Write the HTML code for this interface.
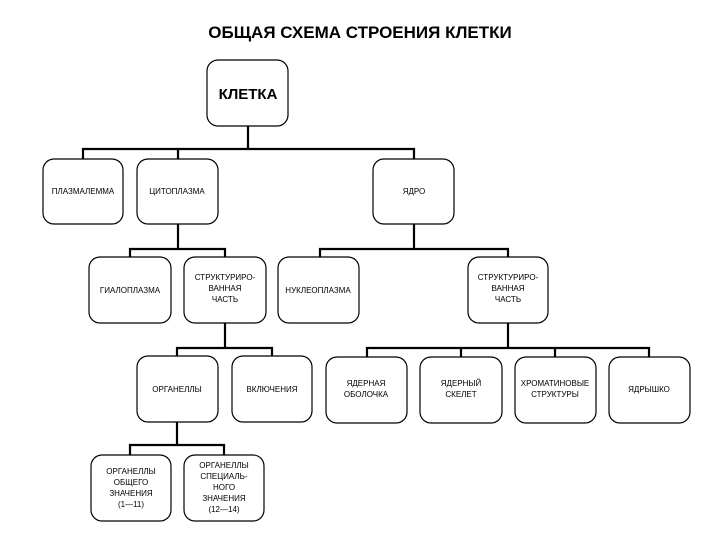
<!DOCTYPE html>
<html><head><meta charset="utf-8"><style>
html,body{margin:0;padding:0;background:#fff;}
svg{display:block;}
text{font-family:"Liberation Sans",sans-serif;fill:#000;}
</style></head><body>
<svg width="720" height="540" viewBox="0 0 720 540" xmlns="http://www.w3.org/2000/svg">
<text x="360" y="38" font-size="17" font-weight="bold" text-anchor="middle">ОБЩАЯ СХЕМА СТРОЕНИЯ КЛЕТКИ</text>
<g stroke="#000" stroke-width="2.2" fill="none">
<path d="M248 126V149M83 159V149H414V159M178 149V159"/>
<path d="M178 224V249M130 257V249H225V257"/>
<path d="M414 224V249M320 257V249H508V257"/>
<path d="M225 323V348M177 356V348H272V356"/>
<path d="M508 323V348M367 357V348H649V357M461 348V357M555 348V357"/>
<path d="M177 422V445M130 455V445H224V455"/>
</g>
<g stroke="#000" stroke-width="1.2" fill="#fff">
<rect x="207" y="60" width="81" height="66" rx="11"/>
<rect x="43" y="159" width="80" height="65" rx="11"/>
<rect x="137" y="159" width="81" height="65" rx="11"/>
<rect x="373" y="159" width="81" height="65" rx="11"/>
<rect x="89" y="257" width="82" height="66" rx="11"/>
<rect x="184" y="257" width="82" height="66" rx="11"/>
<rect x="278" y="257" width="81" height="66" rx="11"/>
<rect x="468" y="257" width="80" height="66" rx="11"/>
<rect x="137" y="356" width="81" height="66" rx="11"/>
<rect x="232" y="356" width="80" height="66" rx="11"/>
<rect x="326" y="357" width="81" height="66" rx="11"/>
<rect x="420" y="357" width="82" height="66" rx="11"/>
<rect x="515" y="357" width="81" height="66" rx="11"/>
<rect x="609" y="357" width="81" height="66" rx="11"/>
<rect x="91" y="455" width="80" height="66" rx="11"/>
<rect x="184" y="455" width="80" height="66" rx="11"/>
</g>
<text x="248" y="99" font-size="15" font-weight="bold" text-anchor="middle">КЛЕТКА</text>
<g font-size="8" text-anchor="middle">
<text x="83" y="194">ПЛАЗМАЛЕММА</text>
<text x="177" y="194">ЦИТОПЛАЗМА</text>
<text x="414" y="194">ЯДРО</text>
<text x="130" y="293">ГИАЛОПЛАЗМА</text>
<text x="225" y="280">СТРУКТУРИРО-</text><text x="225" y="291">ВАННАЯ</text><text x="225" y="302">ЧАСТЬ</text>
<text x="318" y="293">НУКЛЕОПЛАЗМА</text>
<text x="508" y="280">СТРУКТУРИРО-</text><text x="508" y="291">ВАННАЯ</text><text x="508" y="302">ЧАСТЬ</text>
<text x="177" y="392">ОРГАНЕЛЛЫ</text>
<text x="272" y="392">ВКЛЮЧЕНИЯ</text>
<text x="366" y="386">ЯДЕРНАЯ</text><text x="366" y="397">ОБОЛОЧКА</text>
<text x="461" y="386">ЯДЕРНЫЙ</text><text x="461" y="397">СКЕЛЕТ</text>
<text x="555" y="386">ХРОМАТИНОВЫЕ</text><text x="555" y="397">СТРУКТУРЫ</text>
<text x="649" y="392">ЯДРЫШКО</text>
<text x="131" y="474">ОРГАНЕЛЛЫ</text><text x="131" y="485">ОБЩЕГО</text><text x="131" y="496">ЗНАЧЕНИЯ</text><text x="131" y="507">(1—11)</text>
<text x="224" y="468">ОРГАНЕЛЛЫ</text><text x="224" y="479">СПЕЦИАЛЬ-</text><text x="224" y="490">НОГО</text><text x="224" y="501">ЗНАЧЕНИЯ</text><text x="224" y="512">(12—14)</text>
</g>
</svg>
</body></html>
